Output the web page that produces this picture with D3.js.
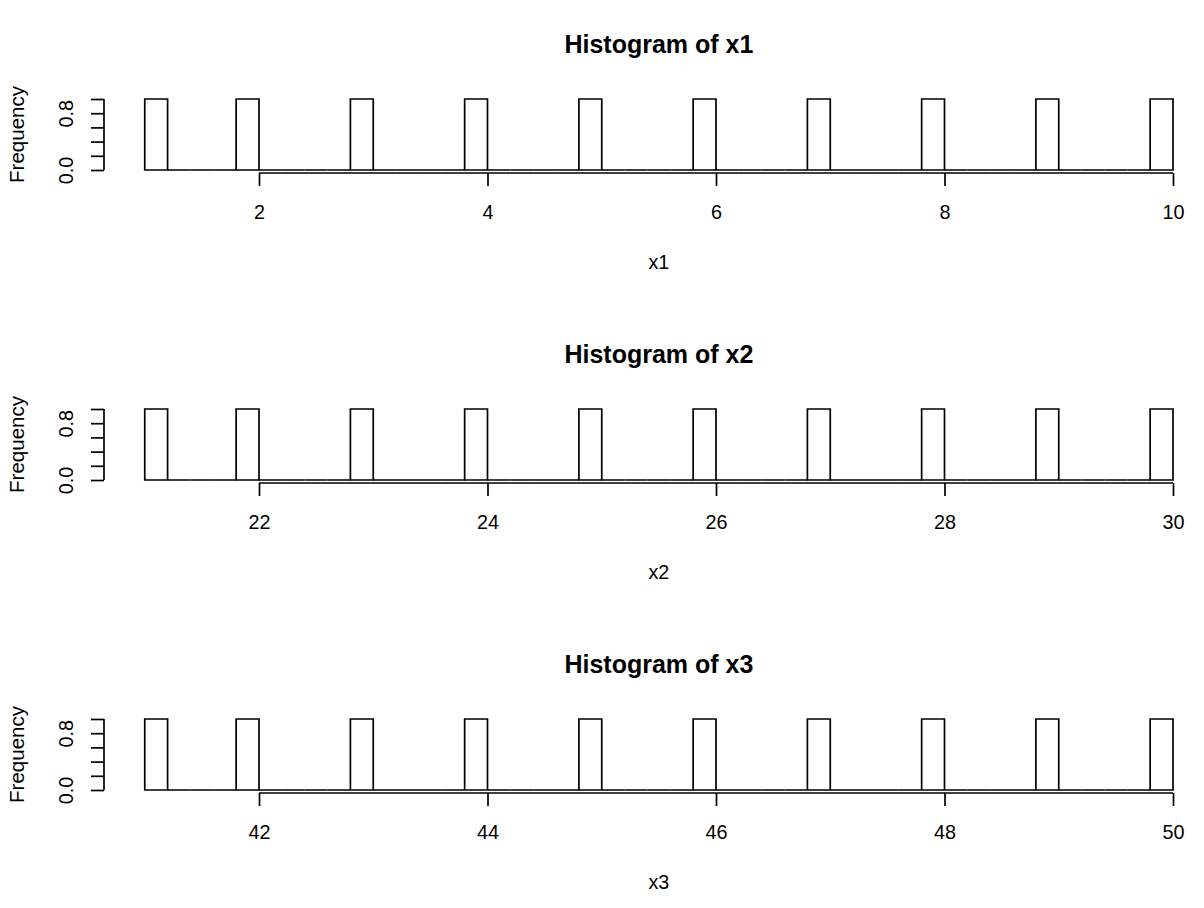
<!DOCTYPE html>
<html>
<head>
<meta charset="utf-8">
<script src="https://cdn.jsdelivr.net/npm/d3@7"></script>
<style>
  html, body { margin: 0; padding: 0; background: #fff; }
  svg { display: block; }
  text { font-family: "Liberation Sans", Arial, Helvetica, sans-serif; fill: #000; }
</style>
</head>
<body>
<script>
// ---- data ----
const names = ["x1", "x2", "x3"];
const x1 = [1, 2, 3, 4, 5, 6, 7, 8, 9, 10];
const x2 = [21, 22, 23, 24, 25, 26, 27, 28, 29, 30];
const x3 = [41, 42, 43, 44, 45, 46, 47, 48, 49, 50];
const seriesValues = [x1, x2, x3];
const binWidth = 0.2;
const xTicks = [[2, 4, 6, 8, 10], [22, 24, 26, 28, 30], [42, 44, 46, 48, 50]];
const yTicks = [0, 0.2, 0.4, 0.6, 0.8, 1.0];
const yTickLabels = ["0.0", "", "", "", "0.8", ""];

// ---- layout ----
const W = 1204, H = 908;
const panelH = 310;
const LW = 1.7;
const svg = d3.select("body").append("svg").attr("width", W).attr("height", H);

// right-closed bins (R hist default, include.lowest)
function histogram(values, lo, hi, w) {
  const n = Math.round((hi - lo) / w);
  const breaks = d3.range(n + 1).map(i => Math.round((lo + i * w) * 1e6) / 1e6);
  const bins = [];
  for (let i = 0; i < n; i++) {
    const a = breaks[i], b = breaks[i + 1];
    const count = values.filter(v => (v > a || (i === 0 && v >= a)) && v <= b).length;
    bins.push({ x0: a, x1: b, count });
  }
  return bins;
}

seriesValues.forEach((vals, p) => {
  const off = p * panelH;
  const lo = d3.min(vals), hi = d3.max(vals);
  const bins = histogram(vals, lo, hi, binWidth);
  const x = d3.scaleLinear().domain([lo, hi]).range([144.75, 1173]);
  const y = d3.scaleLinear().domain([0, 1]).range([170 + off, 99 + off]);
  const g = svg.append("g");

  // bars (all bins, zero-height ones show as baseline)
  g.selectAll("path.bar").data(bins).enter().append("path")
    .attr("class", "bar")
    .attr("d", d => `M${x(d.x0)},${y(0)}V${y(d.count)}H${x(d.x1)}V${y(0)}Z`)
    .attr("fill", "none").attr("stroke", "#000").attr("stroke-width", LW);

  // x axis
  const xt = xTicks[p];
  const axY = 173 + off;
  const xa = g.append("g").attr("transform", `translate(0,${axY})`)
    .call(d3.axisBottom(x).tickValues(xt).tickSize(13).tickSizeOuter(0).tickPadding(19)
      .tickFormat(d3.format("d")));
  xa.select(".domain").attr("d", `M${x(xt[0])},0H${x(xt[xt.length - 1])}`)
    .attr("stroke", "#000").attr("stroke-width", LW);
  xa.selectAll(".tick line").attr("stroke", "#000").attr("stroke-width", LW);
  xa.selectAll(".tick text").attr("font-size", "19.8px").attr("dy", null)
    .attr("y", 46).attr("font-family", "Liberation Sans, Arial, sans-serif");

  // y axis
  const ya = g.append("g").attr("transform", "translate(104,0)")
    .call(d3.axisLeft(y).tickValues(yTicks).tickSize(13).tickSizeOuter(0)
      .tickFormat((d, i) => yTickLabels[i]));
  ya.select(".domain").attr("d", `M0,${y(0)}V${y(1)}`)
    .attr("stroke", "#000").attr("stroke-width", LW);
  ya.selectAll(".tick line").attr("stroke", "#000").attr("stroke-width", LW);
  ya.selectAll(".tick text")
    .attr("font-size", "19.8px").attr("font-family", "Liberation Sans, Arial, sans-serif")
    .attr("x", null).attr("dy", null)
    .attr("text-anchor", "middle")
    .attr("transform", "translate(-31,0) rotate(-90)");

  // title
  g.append("text").attr("x", (x(lo) + x(hi)) / 2).attr("y", 53 + off)
    .attr("text-anchor", "middle").attr("font-size", "25px").attr("font-weight", "bold")
    .text("Histogram of " + names[p]);

  // x label
  g.append("text").attr("x", (x(lo) + x(hi)) / 2).attr("y", 269 + off)
    .attr("text-anchor", "middle").attr("font-size", "19.8px")
    .text(names[p]);

  // y label
  g.append("text")
    .attr("transform", `translate(24,${(y(0) + y(1)) / 2}) rotate(-90)`)
    .attr("text-anchor", "middle").attr("font-size", "20.5px")
    .text("Frequency");
});
</script>
</body>
</html>
